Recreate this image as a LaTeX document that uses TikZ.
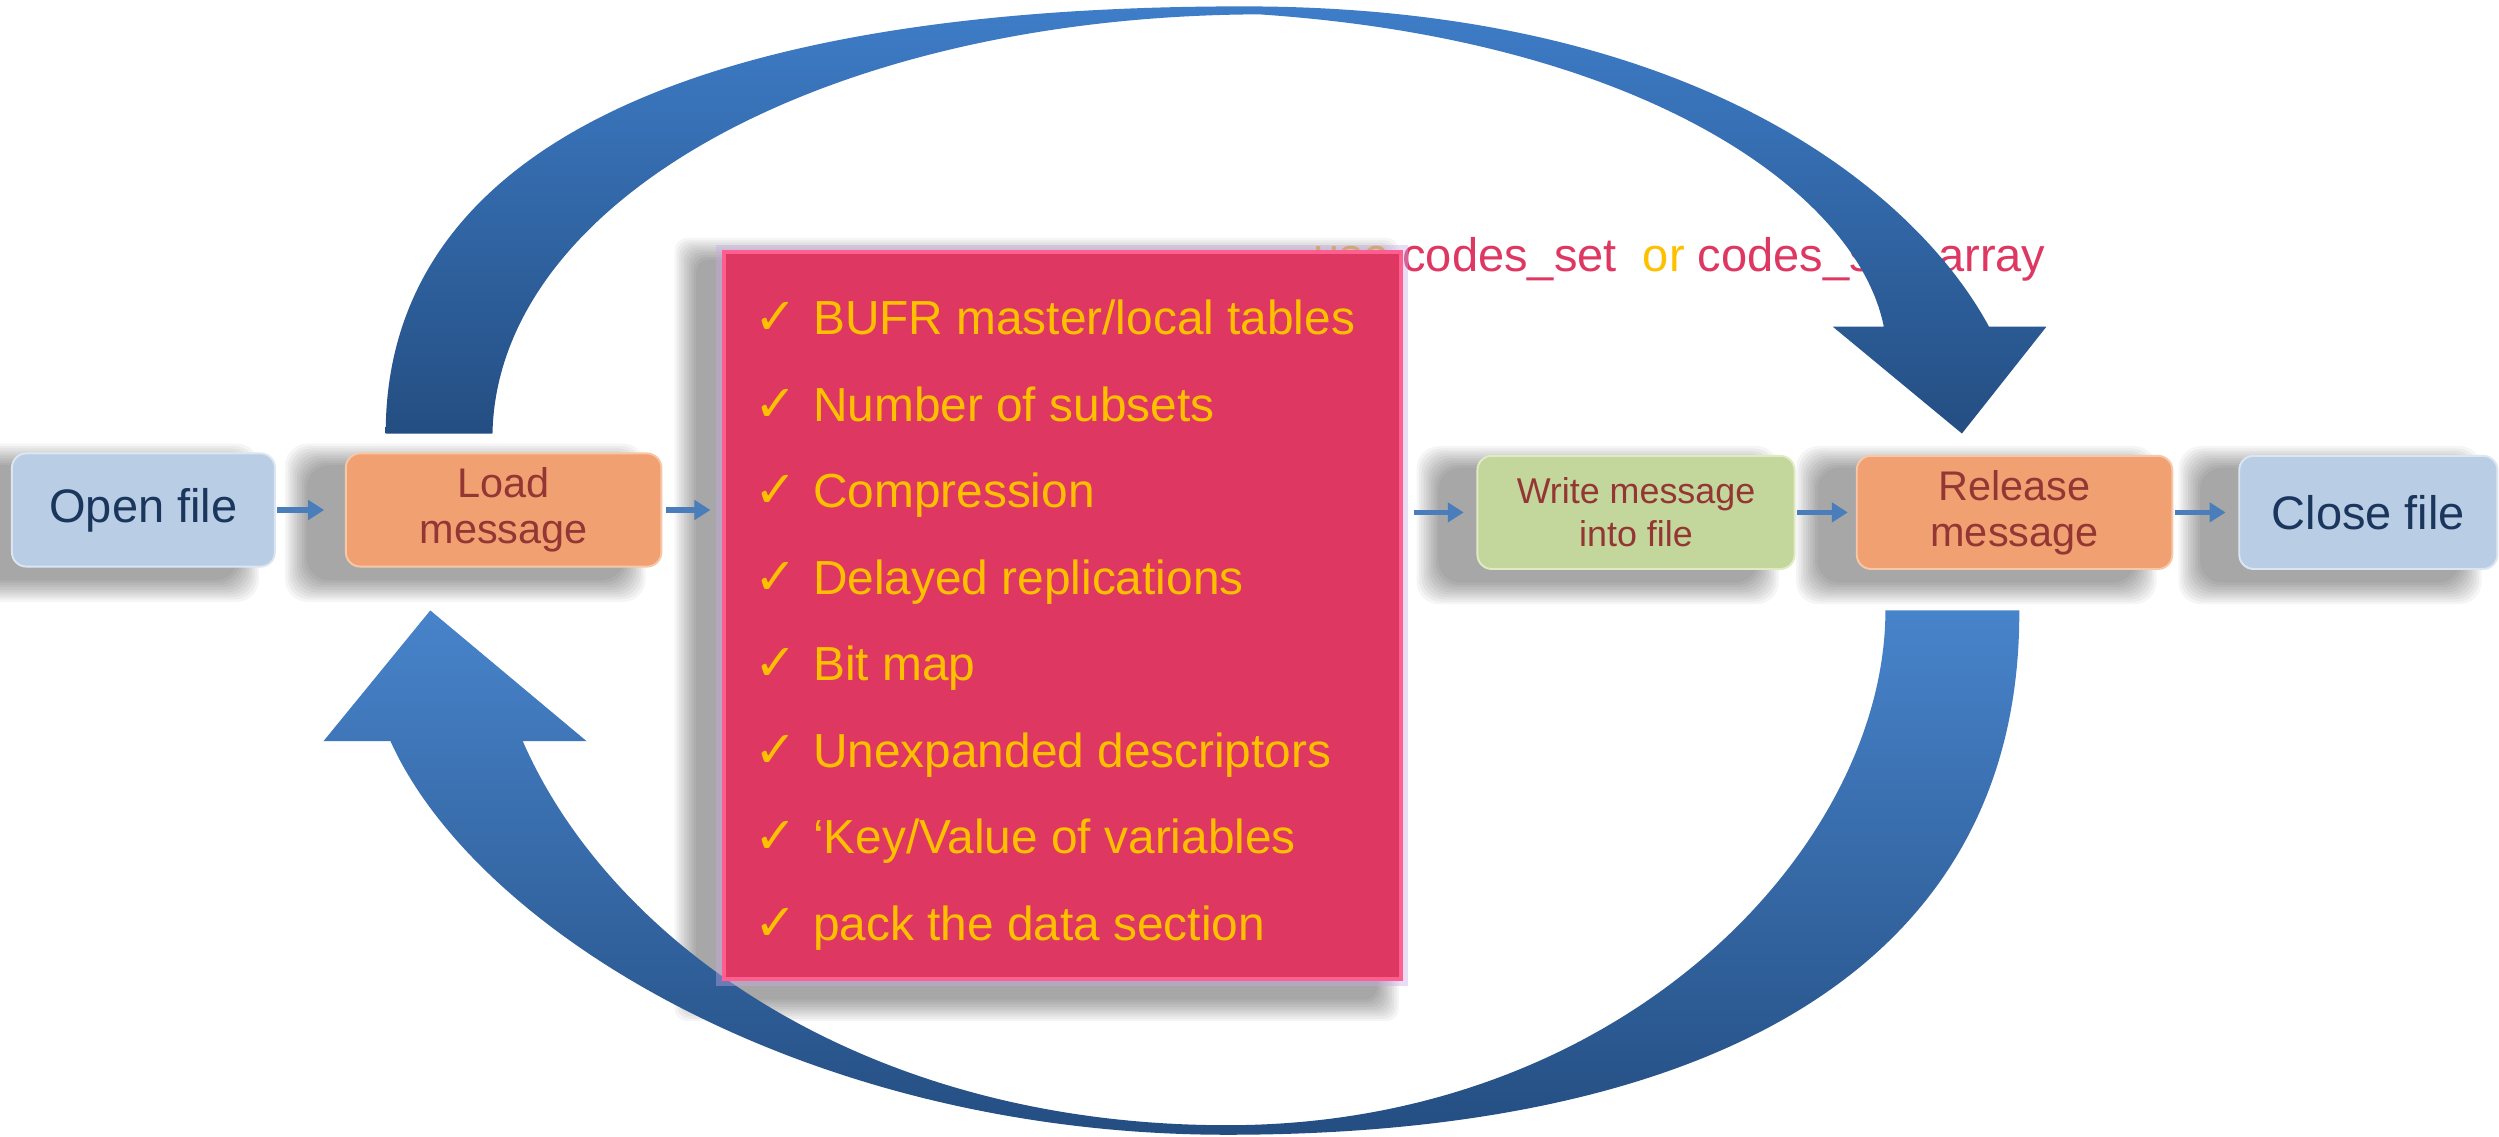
\documentclass[tikz,border=0pt]{standalone}
\usepackage{fontspec}
\setmainfont{Liberation Sans}
\newfontfamily\checkfont{DejaVu Sans}
\usetikzlibrary{arrows.meta}
\pgfdeclarelayer{shadowlayer}
\pgfsetlayers{shadowlayer,main}
\definecolor{bluefill}{HTML}{B9CDE5}
\definecolor{blueedge}{HTML}{DCE6F2}
\definecolor{navytext}{HTML}{1B365D}
\definecolor{orangefill}{HTML}{F1A072}
\definecolor{orangeedge}{HTML}{F7C8A8}
\definecolor{greenfill}{HTML}{C3D69B}
\definecolor{greenedge}{HTML}{E0EBC4}
\definecolor{redtext}{HTML}{943634}
\definecolor{crimson}{HTML}{DE3762}
\definecolor{pinkedge}{HTML}{FF5F8E}
\definecolor{glow}{HTML}{C9A8E6}
\definecolor{gold}{HTML}{FFC000}
\definecolor{usegold}{HTML}{D9A32B}
\definecolor{smallarrow}{HTML}{4A7EBB}
\definecolor{bigLight}{HTML}{3E7DC8}
\definecolor{bigDark}{HTML}{244E82}
\begin{document}
\begin{tikzpicture}[x=1pt,y=-1pt,
  box/.style={rounded corners=9pt, minimum height=71pt, inner sep=0pt, align=center,
    line width=1.2pt},
  bluebox/.style={box, fill=bluefill, draw=blueedge, text=navytext,
    font=\fontsize{29.5}{34}\selectfont},
  orangebox/.style={box, fill=orangefill, draw=orangeedge, text=redtext,
    font=\fontsize{26}{29}\selectfont},
  greenbox/.style={box, fill=greenfill, draw=greenedge, text=redtext,
    font=\fontsize{22.5}{27}\selectfont},
  listbox/.style={fill=crimson, draw=pinkedge, line width=2.5pt, inner sep=0pt},
  item/.style={anchor=base west, inner sep=0pt, text=gold, font=\fontsize{30}{36}\selectfont},
  flow/.style={draw=smallarrow, line width=3.6pt, -{Triangle[length=10pt,width=12pt]}},
  bigarrow/.style={top color=bigLight, bottom color=bigDark},
  shadowpiece/.style={fill=black, opacity=0.04, rounded corners=14pt}
]
\useasboundingbox (0,0) rectangle (1568,713);
\begin{pgfonlayer}{shadowlayer}
\fill[white] (0,0) rectangle (1568,713);
\end{pgfonlayer}

% bottom curved arrow (pointing up to Load message)
\shade[bigarrow, top color=bigLight!95!white]
  (245,465) .. controls (298,583) and (505,712) .. (770,712)
  .. controls (1060,712) and (1268,615) .. (1267,383)
  -- (1183,383)
  .. controls (1183,530) and (1020,706) .. (770,706)
  .. controls (540,706) and (382,589) .. (328,465)
  -- (368,465) -- (270,383) -- (203,465) -- cycle;

% annotation text (partly hidden)
\node[anchor=base west, inner sep=0pt, font=\fontsize{29.5}{34}\selectfont] (note) at (824,170.5)
  {\textcolor{usegold}{use} \textcolor{crimson}{codes\_set}\hspace{16.4pt}\textcolor{gold}{or} \textcolor{crimson}{codes\_set\_array}};

% list box
\draw[glow, line width=4pt, opacity=0.4] (451.5,155.5) rectangle (881.5,616.5);
\node[listbox, minimum width=425pt, minimum height=456pt] (list) at (666.5,386) {};
\foreach \t [count=\i from 0] in {BUFR master/local tables, Number of subsets, Compression, Delayed replications, Bit map, Unexpanded descriptors, {‘Key/Value of variables}, pack the data section} {
  \node[item] (item\i) at (473,{210+54.3*\i}) {\makebox[37pt][l]{\checkfont\fontsize{32}{32}\selectfont ✓}\t};
}

% top curved arrow (pointing down to Release message)
\shade[bigarrow]
  (242,272) .. controls (242,97) and (428,4) .. (780,4)
  .. controls (1070,4) and (1205,125) .. (1248,205)
  -- (1284,205) -- (1231,272) -- (1150,205) -- (1182,205)
  .. controls (1165,120) and (1030,25) .. (790,9)
  .. controls (520,10) and (312,125) .. (309,272)
  -- cycle;

% process boxes
\node[bluebox, minimum width=165pt] (open) at (90,320) {Open file};
\node[orangebox, minimum width=198pt] (load) at (316,320) {Load\\message};
\node[greenbox, minimum width=199pt] (write) at (1026.5,321.5) {Write message\\into file};
\node[orangebox, minimum width=198pt] (release) at (1264,321.5) {Release\\message};
\node[bluebox, minimum width=162pt] (close) at (1486,321.5) {Close file};

% soft shadows behind the boxes
\begin{pgfonlayer}{shadowlayer}
\foreach \n in {open,load,write,release,close} {
  \foreach \r in {0,1.5,...,13.5} {
    \fill[shadowpiece]
      ([xshift=-24pt-\r pt, yshift=-8pt+\r pt]\n.north west) rectangle
      ([xshift=-24pt+\r pt, yshift=-8pt-\r pt]\n.south east);
  }
}
\foreach \r in {0,1.5,...,13.5} {
  \fill[shadowpiece, rounded corners=8pt]
    ([xshift=-16pt-\r pt, yshift=-6pt+\r pt]list.north west) rectangle
    ([xshift=-16pt+\r pt, yshift=-12pt-\r pt]list.south east);
}
\end{pgfonlayer}

% small connectors
\draw[flow, shorten <=1pt, shorten >=13pt] (open.east) -- (load.west);
\draw[flow, shorten <=2pt, shorten >=7pt] (load.east) -- (load.east -| list.west);
\draw[flow, shorten <=7pt, shorten >=8pt] (write.west -| list.east) -- (write.west);
\draw[flow, shorten <=1pt, shorten >=5pt] (write.east) -- (release.west);
\draw[flow, shorten <=1pt, shorten >=8pt] (release.east) -- (close.west);
\end{tikzpicture}
\end{document}
